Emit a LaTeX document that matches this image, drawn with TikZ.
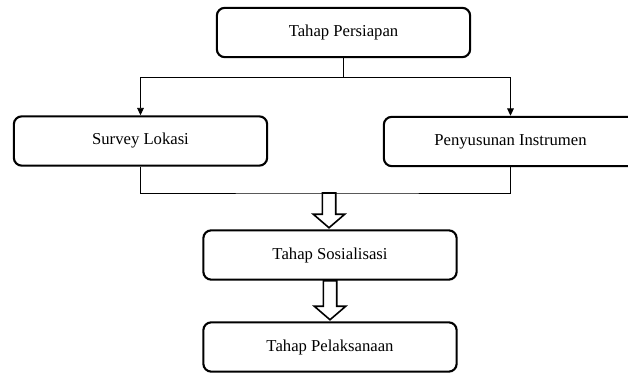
\documentclass[tikz,border=0pt]{standalone}
\usepackage{fontspec}
\setmainfont{Liberation Serif}
\usetikzlibrary{arrows.meta,calc}
\tikzset{
    tahap/.style={draw, line width=1.6pt, rounded corners=6pt,
        minimum width=190pt, minimum height=37pt,
        font=\fontsize{12.5}{15}\selectfont},
    garis/.style={line width=0.6pt},
    panah/.style={garis, -{Triangle[length=5.5pt,width=5pt]}},
    panahbesar/.style={draw, line width=1.2pt, fill=white, line join=miter},
}
\newcommand{\panahbesar}[2]{
\draw[panahbesar] ($(#1)+(-6.7,0)$) -- ($(#1 |- #2)+(-6.7,-15)$)
    -- ($(#1 |- #2)+(-15.7,-15)$) -- ($(#1 |- #2)+(0,-1.5)$)
    -- ($(#1 |- #2)+(15.7,-15)$) -- ($(#1 |- #2)+(6.7,-15)$)
    -- ($(#1)+(6.7,0)$) -- cycle;
}

\begin{document}
\begin{tikzpicture}[x=0.75pt, y=-0.75pt]
\useasboundingbox (0,0) rectangle (628,373);

\node[tahap] (persiapan) at (343.5,32.5) {Tahap Persiapan};
\node[tahap] (survey) at (140.5,141) {Survey Lokasi};
\node[tahap] (instrumen) at (510.5,141.5) {Penyusunan Instrumen};
\node[tahap] (sosialisasi) at (330,255) {Tahap Sosialisasi};
\node[tahap] (pelaksanaan) at (330,347) {Tahap Pelaksanaan};

\coordinate (atas) at (343.5,77);
\coordinate (bawah) at (329,193);

\draw[garis] (persiapan.south) -- (atas);
\draw[panah] (atas) -| (survey.north);
\draw[panah] (atas) -| (instrumen.north);
\draw[garis] (survey.south) |- (bawah) -| (instrumen.south);

\panahbesar{bawah}{sosialisasi.north}
\panahbesar{sosialisasi.south}{pelaksanaan.north}
\end{tikzpicture}
\end{document}
